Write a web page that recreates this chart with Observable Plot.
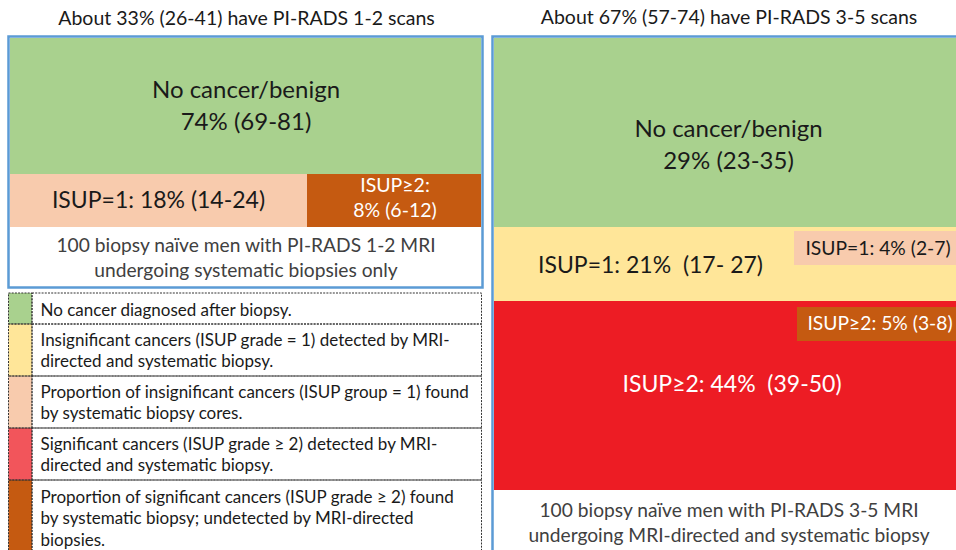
<!DOCTYPE html>
<html><head><meta charset="utf-8">
<script src="https://cdn.jsdelivr.net/npm/d3@7"></script>
<script src="https://cdn.jsdelivr.net/npm/@observablehq/plot@0.6"></script>
<style>
body{margin:0;background:#fff}
#chart{width:956px;height:550px;overflow:hidden}
</style>
</head><body><div id="chart"></div>
<script>
// ---------------- DATA ----------------
const groupShare = [33, 67];
const groupCI = ["26-41", "57-74"];
const groupScan = ["PI-RADS 1-2", "PI-RADS 3-5"];
const groupNote = [
  ["100 biopsy naïve men with PI-RADS 1-2 MRI", "undergoing systematic biopsies only"],
  ["100 biopsy naïve men with PI-RADS 3-5 MRI", "undergoing MRI-directed and systematic biopsy"]
];
const segGroup = [0, 0, 0, 1, 1, 1, 1, 1];
const segCategory = ["benign", "isup1sys", "isup2sys", "benign", "isup1", "isup1sys", "isup2", "isup2sys"];
const segLabel = [
  ["No cancer/benign", "74% (69-81)"],
  ["ISUP=1: 18% (14-24)"],
  ["ISUP≥2:", "8% (6-12)"],
  ["No cancer/benign", "29% (23-35)"],
  ["ISUP=1: 21%  (17- 27)"],
  ["ISUP=1: 4% (2-7)"],
  ["ISUP≥2: 44%  (39-50)"],
  ["ISUP≥2: 5% (3-8)"]
];
const legendCategory = ["benign", "isup1", "isup1sys", "isup2", "isup2sys"];
const legendText = [
  ["No cancer diagnosed after biopsy."],
  ["Insignificant cancers (ISUP grade = 1) detected by MRI-", "directed and systematic biopsy."],
  ["Proportion of insignificant cancers (ISUP group = 1) found", "by systematic biopsy cores."],
  ["Significant cancers (ISUP grade ≥ 2) detected by MRI-", "directed and systematic biopsy."],
  ["Proportion of significant cancers (ISUP grade ≥ 2) found", "by systematic biopsy; undetected by MRI-directed", "biopsies."]
];

// ---------------- LAYOUT & STYLE ----------------
const categoryColors = {benign: "#A9D18E", isup1: "#FFE699", isup1sys: "#F8CBAD", isup2: "#ED1C24", isup2sys: "#C55A11"};
const categoryInk = {benign: "#1a1a1a", isup1: "#1a1a1a", isup1sys: "#1a1a1a", isup2: "#ffffff", isup2sys: "#ffffff"};
const panelFrame = [[8.5, 482.5, 36.5, 287.5], [492.5, 975, 36.5, 575]];
const segBox = [
  [10, 481, 38, 174], [10, 307, 174, 227], [307, 481, 174, 227],
  [494, 956, 38, 227], [494, 956, 227, 301], [794, 960, 231, 265], [494, 956, 301, 490], [797, 960, 307, 341]
];
const segAnchor = [[245.5, 90, 31.5], [158, 200, 0], [394.5, 185, 25.5], [728, 129, 31.5], [650, 265, 0], [877.5, 248, 0], [731.5, 384, 0], [879.5, 323, 0]];
const segFont = [24, 23, 19.5, 24, 23, 19.3, 23, 19.3];
const titleAnchor = [[246, 18], [728.5, 17]];
const noteAnchor = [[245.5, 245, 25], [728.5, 510, 25]];
const legendRows = [293, 324, 376, 428, 480, 570];
const legendFirstLine = [310, 340, 392, 444, 497];
const legendStep = 21.5;
const legendX = [8.5, 32, 481.5];

// ---------------- BUILD TABLES ----------------
const cats = Object.keys(categoryColors);
const rects = segCategory.map((c, i) => ({cat: c, x1: segBox[i][0], x2: segBox[i][1], y1: segBox[i][2], y2: segBox[i][3]}));
const frames = panelFrame.map(f => ({x1: f[0], x2: f[1], y1: f[2], y2: f[3]}));
const segLines = segLabel.flatMap((lines, i) => lines.map((t, j) => ({
  text: t, x: segAnchor[i][0], y: segAnchor[i][1] + j * segAnchor[i][2], size: segFont[i], ink: categoryInk[segCategory[i]]
})));
const titles = groupShare.map((s, i) => ({text: `About ${s}% (${groupCI[i]}) have ${groupScan[i]} scans`, x: titleAnchor[i][0], y: titleAnchor[i][1]}));
const notes = groupNote.flatMap((lines, i) => lines.map((t, j) => ({text: t, x: noteAnchor[i][0], y: noteAnchor[i][1] + j * noteAnchor[i][2]})));
const legRows = legendCategory.map((c, i) => ({cat: c, y1: legendRows[i], y2: legendRows[i + 1]}));
const legLines = legendText.flatMap((lines, i) => lines.map((t, j) => ({text: t, y: legendFirstLine[i] + j * legendStep})));

const plot = Plot.plot({
  width: 956, height: 550,
  margin: 0,
  x: {domain: [0, 956], range: [0, 956], axis: null},
  y: {domain: [0, 550], range: [0, 550], axis: null},
  color: {domain: cats, range: cats.map(c => categoryColors[c])},
  style: {fontFamily: "Lato, sans-serif", background: "#fff", overflow: "hidden"},
  marks: [
    Plot.rect(rects, {x1: "x1", x2: "x2", y1: "y1", y2: "y2", fill: "cat"}),
    Plot.rect(frames, {x1: "x1", x2: "x2", y1: "y1", y2: "y2", fill: "none", stroke: "#5B9BD5", strokeWidth: 2.5}),
    Plot.text(segLines.filter(d => d.ink !== "#ffffff"), {x: "x", y: "y", text: "text", fontSize: "size", fill: "#1a1a1a"}),
    Plot.text(segLines.filter(d => d.ink === "#ffffff"), {x: "x", y: "y", text: "text", fontSize: "size", fill: "#ffffff"}),
    Plot.text(titles, {x: "x", y: "y", text: "text", fontSize: 19.5, fill: "#1a1a1a"}),
    Plot.text(notes, {x: "x", y: "y", text: "text", fontSize: 19.2, fill: "#404040"}),
    // legend
    Plot.rect(legRows, {x1: legendX[0], x2: legendX[1], y1: "y1", y2: "y2", fill: "cat",
      fillOpacity: d => d.cat === "isup2" ? 0.75 : 1}),
    Plot.rect(legRows, {x1: legendX[0], x2: legendX[1], y1: "y1", y2: "y2", fill: "none", stroke: "#333", strokeWidth: 1, strokeDasharray: "2,1.2"}),
    Plot.rect(legRows, {x1: legendX[1], x2: legendX[2], y1: "y1", y2: "y2", fill: "none", stroke: "#333", strokeWidth: 1, strokeDasharray: "2,1.2"}),
    Plot.text(legLines, {x: legendX[1] + 8, y: "y", text: "text", textAnchor: "start", fontSize: 17, fill: "#1a1a1a"})
  ]
});
document.getElementById("chart").appendChild(plot);
</script>
</body></html>
